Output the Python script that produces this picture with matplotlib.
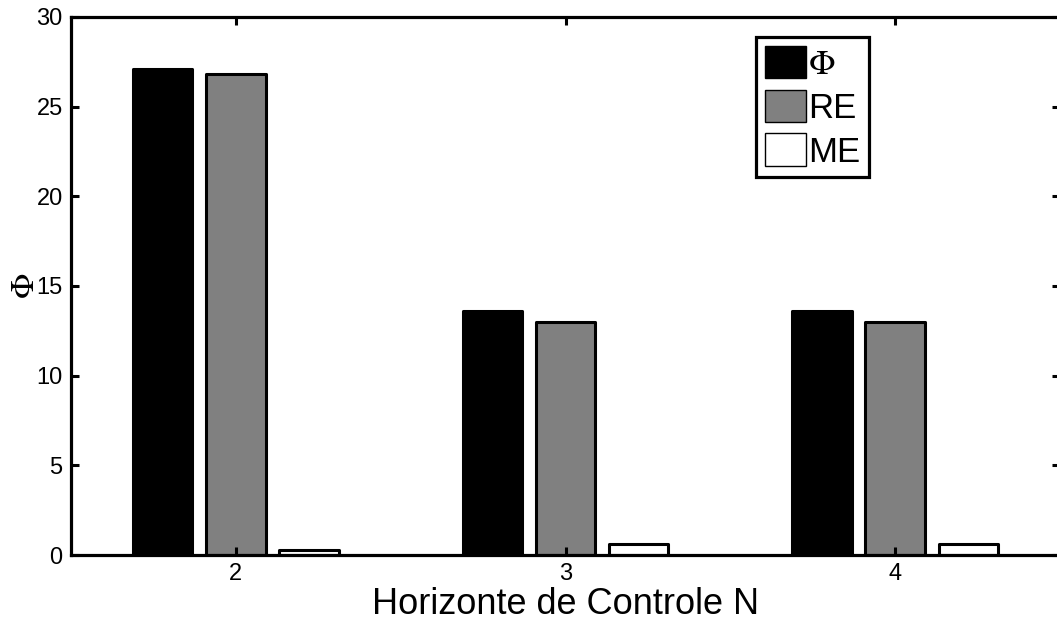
import matplotlib
matplotlib.use("Agg")
import matplotlib.pyplot as plt
import numpy as np

plt.rcParams['font.family'] = ['Liberation Sans', 'DejaVu Sans']
plt.rcParams['mathtext.fontset'] = 'stix'

# control horizon N and the three indices per horizon
horizons = [2, 3, 4]
phi_vals = [27.1, 13.6, 13.6]
re_vals = [26.8, 13.0, 13.0]
me_vals = [0.3, 0.6, 0.6]

series_labels = [r'$\Phi$', 'RE', 'ME']
series_colors = ['black', '#808080', 'white']

fig = plt.figure(figsize=(10.57, 6.24), dpi=100)
W, H = 1057, 624
ax = fig.add_axes([71 / W, 1 - 555 / H, (1060 - 71) / W, (555 - 17) / H])

x = np.array(horizons, dtype=float)
width = 0.18
offsets = [-0.222, 0.0, 0.222]
for vals, off, col, lab in zip([phi_vals, re_vals, me_vals], offsets,
                               series_colors, series_labels):
    ax.bar(x + off, vals, width, color=col, edgecolor='black',
           linewidth=2.2, label=lab, joinstyle='round')

ax.set_xlim(1.5, 4.5)
ax.set_ylim(0, 30)
ax.set_xticks(horizons)
ax.set_yticks(np.arange(0, 31, 5))

for s in ax.spines.values():
    s.set_linewidth(2.3)
ax.tick_params(direction='in', length=6, width=2.2, labelsize=17,
               top=True, right=True, pad=6)

ax.set_xlabel('Horizonte de Controle N', fontsize=26, labelpad=1)
ax.set_ylabel(r'$\Phi$', fontsize=24, labelpad=-3)

leg = ax.legend(loc='upper left', bbox_to_anchor=(756 / W, 1 - 37 / H),
                bbox_transform=fig.transFigure, fontsize=25, frameon=True,
                fancybox=False, edgecolor='black', framealpha=1,
                handlelength=1.18, handleheight=1.07, handletextpad=0.08,
                labelspacing=0.25, borderpad=0.25, borderaxespad=0)
leg.get_frame().set_linewidth(2.3)
for p in leg.get_patches():
    p.set_linewidth(1.0)

fig.savefig('out.png', dpi=100)
